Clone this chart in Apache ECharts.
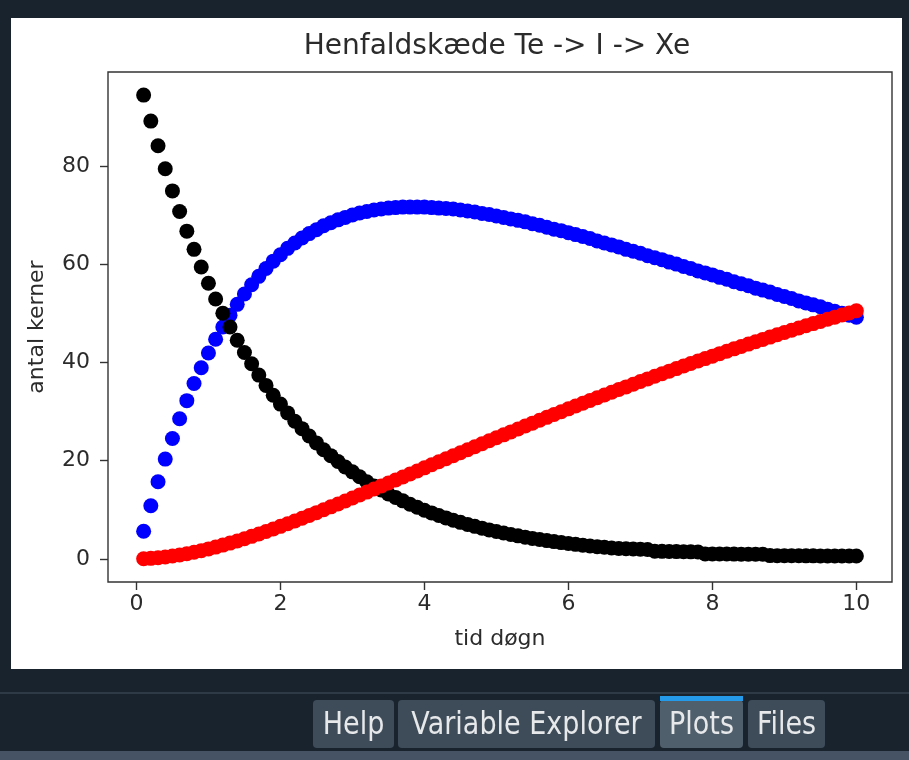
<!DOCTYPE html>
<html>
<head>
<meta charset="utf-8">
<script src="https://cdn.jsdelivr.net/npm/echarts@6/dist/echarts.min.js"></script>
<style>
html,body{margin:0;padding:0;background:#19232D;}
#chart{width:909px;height:760px;}
</style>
</head>
<body>
<div id="chart"></div>
<script>
// time (tid døgn)
const tid = [
0.1,0.2,0.3,0.4,0.5,0.6,0.7,0.8,0.9,1.0,
1.1,1.2,1.3,1.4,1.5,1.6,1.7,1.8,1.9,2.0,
2.1,2.2,2.3,2.4,2.5,2.6,2.7,2.8,2.9,3.0,
3.1,3.2,3.3,3.4,3.5,3.6,3.7,3.8,3.9,4.0,
4.1,4.2,4.3,4.4,4.5,4.6,4.7,4.8,4.9,5.0,
5.1,5.2,5.3,5.4,5.5,5.6,5.7,5.8,5.9,6.0,
6.1,6.2,6.3,6.4,6.5,6.6,6.7,6.8,6.9,7.0,
7.1,7.2,7.3,7.4,7.5,7.6,7.7,7.8,7.9,8.0,
8.1,8.2,8.3,8.4,8.5,8.6,8.7,8.8,8.9,9.0,
9.1,9.2,9.3,9.4,9.5,9.6,9.7,9.8,9.9,10.0];

// Te (black)
const te = [
94.4,89.1,84.1,79.4,74.9,70.7,66.7,63.0,59.4,56.1,
52.9,50.0,47.2,44.5,42.0,39.7,37.4,35.3,33.3,31.5,
29.7,28.0,26.5,25.0,23.6,22.2,21.0,19.8,18.7,17.7,
16.7,15.7,14.8,14.0,13.2,12.5,11.8,11.1,10.5,9.9,
9.35,8.83,8.33,7.86,7.42,7.01,6.61,6.24,5.89,5.56,
5.25,4.95,4.67,4.41,4.16,3.93,3.71,3.50,3.30,3.12,
2.94,2.78,2.62,2.48,2.34,2.21,2.1,2.05,2.0,1.95,
1.9,1.55,1.52,1.5,1.47,1.45,1.42,1.4,1.0,1.0,
0.98,0.97,0.96,0.95,0.94,0.93,0.92,0.65,0.64,0.63,
0.62,0.61,0.6,0.6,0.59,0.58,0.58,0.57,0.57,0.56];

// I (blue)
const jod = [
5.6,10.8,15.7,20.3,24.5,28.5,32.2,35.7,38.9,41.9,
44.7,47.2,49.6,51.8,53.9,55.8,57.5,59.1,60.6,61.9,
63.2,64.3,65.3,66.2,67.0,67.8,68.4,69.0,69.5,70.0,
70.4,70.7,71.0,71.2,71.4,71.5,71.6,71.6,71.6,71.6,
71.5,71.4,71.3,71.2,71.0,70.8,70.6,70.3,70.1,69.8,
69.5,69.2,68.9,68.6,68.2,67.9,67.5,67.1,66.8,66.4,
66.0,65.6,65.2,64.7,64.3,63.9,63.5,63.0,62.6,62.2,
61.7,61.3,60.9,60.4,60.0,59.5,59.1,58.6,58.2,57.8,
57.3,56.9,56.4,56.0,55.6,55.1,54.7,54.3,53.8,53.4,
53.0,52.5,52.1,51.7,51.3,50.8,50.4,50.0,49.6,49.2];

// Xe (red)
const xe = [
0.02,0.09,0.21,0.37,0.56,0.79,1.05,1.34,1.66,2.02,
2.39,2.79,3.20,3.64,4.09,4.57,5.06,5.56,6.08,6.61,
7.15,7.70,8.26,8.83,9.40,9.99,10.58,11.17,11.77,12.37,
12.98,13.58,14.20,14.81,15.42,16.04,16.66,17.27,17.89,18.52,
19.14,19.75,20.37,20.98,21.60,22.21,22.82,23.42,24.03,24.64,
25.24,25.84,26.44,27.03,27.62,28.21,28.80,29.37,29.95,30.53,
31.10,31.67,32.23,32.79,33.35,33.91,34.46,35.00,35.54,36.09,
36.62,37.15,37.68,38.20,38.72,39.24,39.75,40.26,40.76,41.26,
41.76,42.26,42.74,43.23,43.71,44.19,44.66,45.13,45.60,46.07,
46.52,46.98,47.43,47.88,48.32,48.77,49.20,49.63,50.06,50.49];

const xTicks = [0, 2, 4, 6, 8, 10];
const yTicks = [0, 20, 40, 60, 80];
const tabs = ['Help', 'Variable Explorer', 'Plots', 'Files'];

const pair = (ys) => tid.map((t, i) => [t, ys[i]]);
const txt = '#2b2b2b';
const font = 'DejaVu Sans';

const tabBoxes = [[313, 81], [398, 257], [660, 83], [748, 77]];
const tabGraphics = [];
tabs.forEach((name, i) => {
  const [x0, w] = tabBoxes[i];
  const sel = name === 'Plots';
  tabGraphics.push({
    type: 'rect', shape: {x: x0, y: 700, width: w, height: 48, r: [4, 4, 4, 4]},
    style: {fill: sel ? '#505F6C' : '#3E4C5A'}, z: 1
  });
  if (sel) {
    tabGraphics.push({type: 'rect', shape: {x: x0, y: 696, width: w, height: 5},
      style: {fill: '#259AE9'}, z: 2});
  }
  tabGraphics.push({
    type: 'text', x: x0 + w / 2, y: 726, scaleY: 1.18, z: 3,
    style: {text: name, x: 0, y: 0, align: 'center', verticalAlign: 'middle',
      fill: '#E6E8EA', font: '27px "DejaVu Sans"'}
  });
});

const chart = echarts.init(document.getElementById('chart'), null, {renderer: 'canvas'});
chart.setOption({
  animation: false,
  backgroundColor: '#19232D',
  title: {
    text: 'Henfaldskæde Te -> I -> Xe',
    left: 497, top: 33, textAlign: 'center', padding: 0,
    textStyle: {fontFamily: font, fontSize: 28, fontWeight: 'normal', color: txt}
  },
  graphic: [
    {type: 'rect', shape: {x: 11, y: 18, width: 891, height: 651},
      style: {fill: '#ffffff'}, z: -10, silent: true},
    {type: 'rect', shape: {x: 0, y: 692, width: 909, height: 2},
      style: {fill: '#2E3B47'}, z: 0},
    {type: 'rect', shape: {x: 0, y: 751, width: 909, height: 9},
      style: {fill: '#455364'}, z: 0}
  ].concat(tabGraphics),
  grid: {
    left: 108, right: 17, top: 72, bottom: 178,
    show: true, borderColor: '#333333', borderWidth: 1.4, backgroundColor: 'transparent'
  },
  xAxis: {
    type: 'value', min: -0.395, max: 10.495,
    name: 'tid døgn', nameLocation: 'middle', nameGap: 46,
    nameTextStyle: {fontFamily: font, fontSize: 22, color: txt},
    axisLine: {show: false, onZero: false},
    splitLine: {show: false},
    axisTick: {show: true, inside: false, length: 8, customValues: xTicks,
      lineStyle: {color: '#333333', width: 1.4}},
    axisLabel: {customValues: xTicks, margin: 11, fontFamily: font, fontSize: 22, color: txt}
  },
  yAxis: {
    type: 'value', min: -4.72, max: 99.1,
    name: 'antal kerner', nameLocation: 'middle', nameGap: 60,
    nameTextStyle: {fontFamily: font, fontSize: 22, color: txt},
    axisLine: {show: false, onZero: false},
    splitLine: {show: false},
    axisTick: {show: true, inside: false, length: 8, customValues: yTicks,
      lineStyle: {color: '#333333', width: 1.4}},
    axisLabel: {customValues: yTicks, margin: 18, fontFamily: font, fontSize: 22, color: txt}
  },
  series: [
    {name: 'I', type: 'scatter', data: pair(jod), symbolSize: 15,
      itemStyle: {color: '#0000ff', opacity: 1}, z: 2},
    {name: 'Te', type: 'scatter', data: pair(te), symbolSize: 15,
      itemStyle: {color: '#000000', opacity: 1}, z: 3},
    {name: 'Xe', type: 'scatter', data: pair(xe), symbolSize: 15,
      itemStyle: {color: '#ff0000', opacity: 1}, z: 4}
  ]
});
</script>
</body>
</html>
